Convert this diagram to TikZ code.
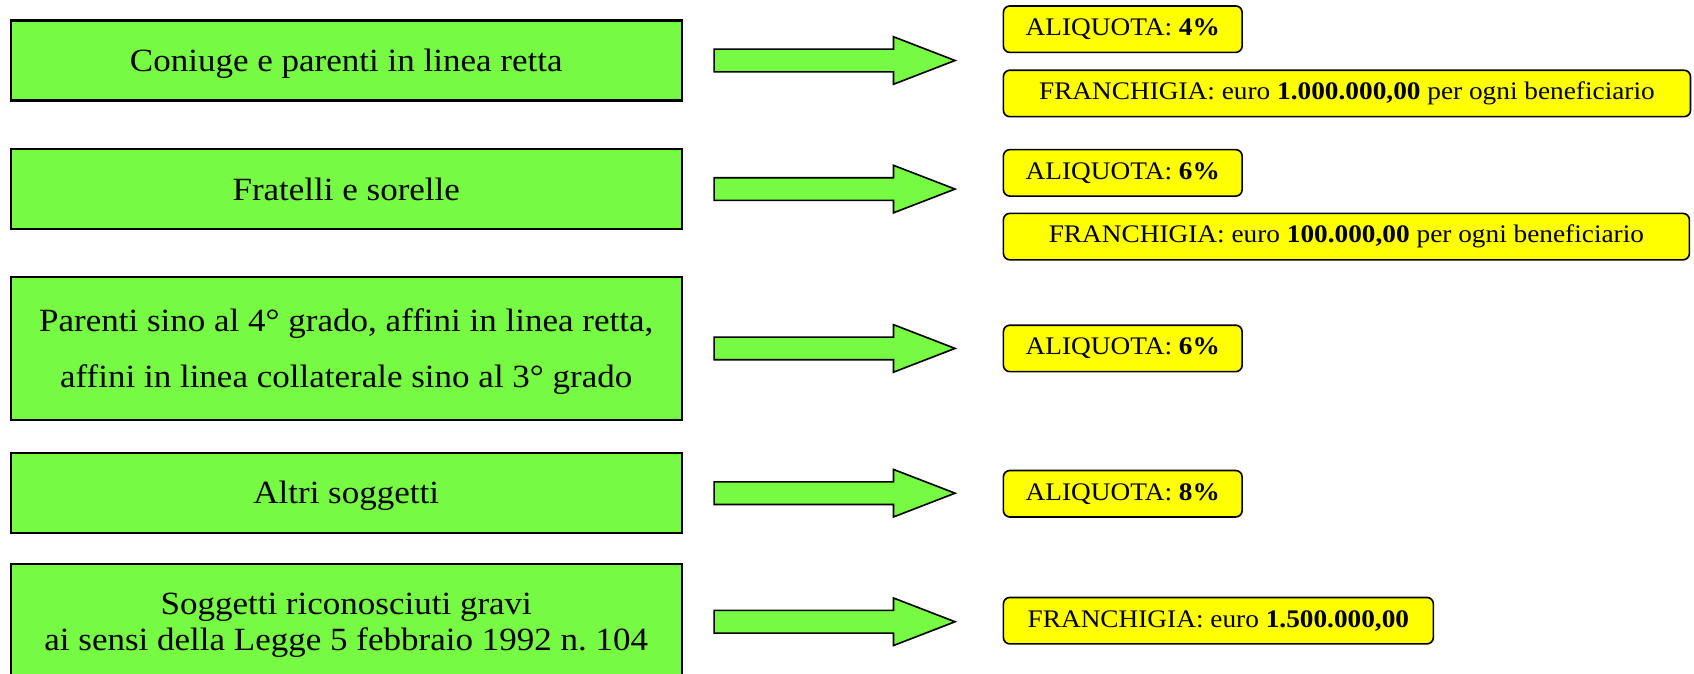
\documentclass[tikz,border=0pt]{standalone}
\usepackage{fontspec}
\setmainfont{Liberation Serif}[FakeStretch=1.08]

\definecolor{boxgreen}{RGB}{118,250,68}
\definecolor{boxyellow}{RGB}{255,255,0}

\tikzset{
	group box/.style={draw, line width=1pt, fill=boxgreen, minimum width=310.5pt, align=center, inner sep=0pt, text depth=0pt, font=\fontsize{15}{18}\selectfont},
	rate box/.style={draw, line width=0.75pt, fill=boxyellow, rounded corners=3pt, minimum height=21.5pt, inner sep=0pt, anchor=west, font=\fontsize{11.7}{14}\selectfont},
	block arrow/.style={draw, line width=0.75pt, fill=boxgreen, line join=miter}
}

\begin{document}
\frenchspacing
\begin{tikzpicture}[x=0.5pt, y=-0.5pt]
		\useasboundingbox (0,0) rectangle (1568,623);
		\clip (0,0) rectangle (1568,623);
		
		\foreach \txt/\yy/\hh [count=\i] in {
			{Coniuge e parenti in linea retta}/56/37pt,
			{Fratelli e sorelle}/175/37pt,
			{Parenti sino al 4° grado, affini in linea retta,\\[8pt] affini in linea collaterale sino al 3° grado}/322.5/66.5pt,
			{Altri soggetti}/456/37pt,
			{Soggetti riconosciuti gravi\\[-1.5pt] ai sensi della Legge 5 febbraio 1992 n. 104}/575.5/53.5pt}
		\node [group box, minimum height=\hh] (group-\i) at (320.5,\yy) {\txt};
		
		\foreach \yy [count=\i] in {56,175,322.5,456.5,575.5}
		\draw [block arrow] (661,\yy-10.5) -- (827,\yy-10.5) -- (827,\yy-22) -- (884,\yy)
			-- (827,\yy+22) -- (827,\yy+10.5) -- (661,\yy+10.5) -- cycle;
		
		\foreach \m/\yy [count=\i] in {4/27,6/160,6/322.5,8/457}
		\node [rate box, minimum width=110.5pt] (rate-\i) at (928,\yy) {ALIQUOTA: \textbf{\m\%}};
		
		\node [rate box, minimum width=318pt] (exempt-1) at (928,86.5) {FRANCHIGIA: euro \textbf{1.000.000,00} per ogni beneficiario};
		\node [rate box, minimum width=317.5pt] (exempt-2) at (928,219) {FRANCHIGIA: euro \textbf{100.000,00} per ogni beneficiario};
		\node [rate box, minimum width=199pt] (exempt-5) at (928,574.5) {FRANCHIGIA: euro \textbf{1.500.000,00}};
		
\end{tikzpicture}
\end{document}
